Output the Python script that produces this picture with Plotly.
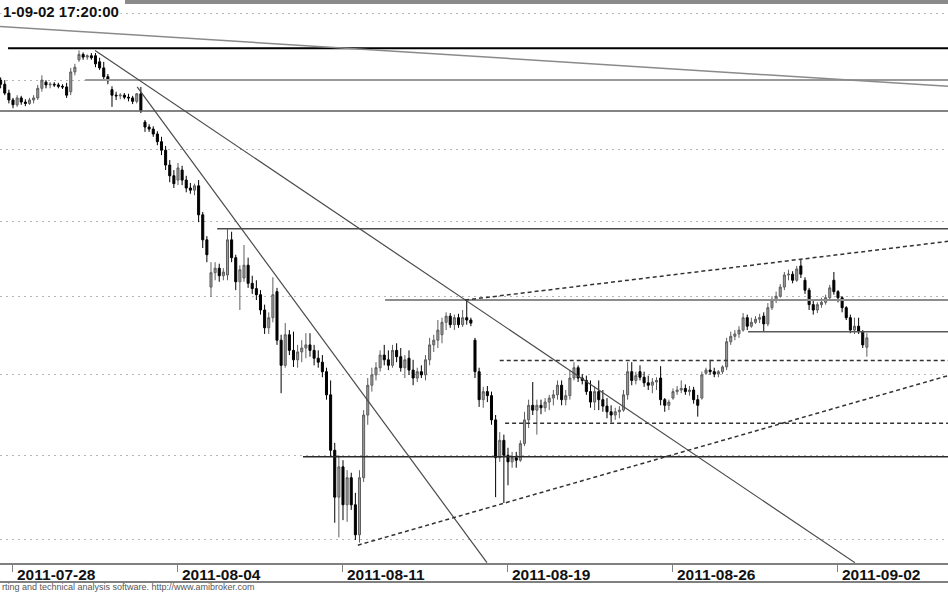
import math
import plotly.graph_objects as go

# ---------------- data (hourly bars, index 0 = first bar of 2011-07-28) ----------------
bar_index = list(range(-3, 208))

opens = [
    2800, 2794, 2781,
    2771, 2764, 2774, 2768, 2766, 2771, 2774, 2788,
    2797, 2793, 2794, 2793, 2791, 2790, 2783, 2812,
    2830, 2838, 2834, 2836, 2836, 2827, 2818, 2805,
    2786, 2778, 2777, 2778, 2775, 2774, 2769, 2780,
    2739, 2732, 2729, 2722, 2711, 2699, 2678, 2663,
    2657, 2671, 2657, 2646, 2643, 2649, 2609, 2575,
    2512, 2531, 2537, 2527, 2528, 2575, 2551, 2519,
    2524, 2541, 2517, 2510, 2502, 2482, 2459, 2472,
    2506, 2443, 2411, 2450, 2430, 2418, 2428, 2433,
    2437, 2430, 2420, 2415, 2403, 2374, 2306, 2250,
    2286, 2241, 2273, 2241, 2206, 2273, 2349, 2386,
    2399, 2408, 2424, 2418, 2411, 2430, 2422, 2408,
    2420, 2405, 2395, 2403, 2399, 2418, 2437, 2443,
    2450, 2466, 2474, 2463, 2472, 2463, 2472, 2469,
    2443, 2403, 2368, 2378, 2373, 2343, 2297, 2318,
    2300, 2292, 2297, 2294, 2314, 2343, 2361, 2355,
    2361, 2358, 2365, 2370, 2374, 2386, 2368, 2373,
    2395, 2408, 2395, 2392, 2378, 2365, 2378, 2368,
    2360, 2353, 2349, 2353, 2355, 2374, 2403, 2392,
    2403, 2396, 2389, 2386, 2390, 2395, 2368, 2361,
    2370, 2378, 2380, 2382, 2378, 2380, 2368, 2370,
    2401, 2405, 2403, 2400, 2403, 2409, 2441, 2448,
    2451, 2456, 2472, 2461, 2466, 2470, 2474, 2464,
    2485, 2495, 2500, 2512, 2528, 2529, 2521, 2540,
    2521, 2508, 2489, 2482, 2489, 2492, 2498, 2521,
    2506, 2498, 2485, 2472, 2456, 2461, 2454, 2434,
]
highs = [
    2804, 2800, 2786,
    2774, 2778, 2777, 2772, 2774, 2778, 2793, 2807,
    2800, 2797, 2797, 2796, 2794, 2796, 2818, 2824,
    2844, 2841, 2838, 2840, 2840, 2833, 2827, 2809,
    2791, 2783, 2781, 2781, 2780, 2777, 2781, 2790,
    2742, 2736, 2733, 2726, 2718, 2705, 2685, 2671,
    2681, 2677, 2663, 2653, 2652, 2657, 2613, 2580,
    2545, 2545, 2543, 2537, 2591, 2586, 2555, 2541,
    2568, 2551, 2527, 2521, 2508, 2489, 2479, 2525,
    2511, 2450, 2465, 2456, 2454, 2437, 2443, 2452,
    2452, 2437, 2430, 2424, 2408, 2392, 2315, 2300,
    2294, 2282, 2279, 2255, 2282, 2355, 2395, 2408,
    2415, 2430, 2437, 2430, 2437, 2439, 2433, 2424,
    2430, 2418, 2408, 2411, 2424, 2446, 2450, 2469,
    2472, 2479, 2478, 2476, 2477, 2482, 2496, 2472,
    2446, 2408, 2384, 2385, 2378, 2349, 2328, 2325,
    2309, 2304, 2304, 2318, 2353, 2368, 2390, 2368,
    2368, 2370, 2374, 2380, 2392, 2392, 2380, 2405,
    2415, 2411, 2400, 2398, 2392, 2385, 2392, 2380,
    2370, 2361, 2358, 2360, 2380, 2415, 2415, 2403,
    2411, 2403, 2398, 2395, 2396, 2410, 2370, 2368,
    2382, 2385, 2392, 2387, 2385, 2384, 2374, 2403,
    2408, 2418, 2408, 2405, 2411, 2446, 2454, 2456,
    2461, 2478, 2476, 2472, 2474, 2477, 2479, 2491,
    2500, 2506, 2516, 2532, 2535, 2533, 2540, 2548,
    2525, 2511, 2495, 2492, 2498, 2502, 2515, 2532,
    2508, 2500, 2487, 2476, 2472, 2472, 2456, 2452,
]
lows = [
    2788, 2778, 2766,
    2759, 2761, 2764, 2762, 2764, 2766, 2771, 2783,
    2788, 2788, 2790, 2788, 2787, 2774, 2778, 2807,
    2827, 2830, 2830, 2830, 2819, 2815, 2800, 2794,
    2761, 2771, 2772, 2772, 2769, 2765, 2766, 2752,
    2725, 2725, 2718, 2706, 2692, 2671, 2654, 2646,
    2650, 2650, 2640, 2638, 2636, 2599, 2564, 2545,
    2499, 2521, 2519, 2521, 2521, 2545, 2508, 2482,
    2519, 2511, 2503, 2495, 2476, 2451, 2451, 2466,
    2437, 2376, 2408, 2424, 2409, 2408, 2415, 2420,
    2422, 2411, 2408, 2396, 2368, 2298, 2220, 2203,
    2223, 2221, 2235, 2200, 2197, 2268, 2337, 2378,
    2392, 2403, 2411, 2405, 2408, 2415, 2403, 2395,
    2399, 2386, 2390, 2395, 2392, 2411, 2428, 2433,
    2439, 2456, 2459, 2456, 2459, 2460, 2463, 2461,
    2395, 2359, 2358, 2365, 2337, 2250, 2292, 2243,
    2264, 2285, 2285, 2292, 2311, 2333, 2349, 2325,
    2350, 2353, 2355, 2361, 2368, 2361, 2361, 2368,
    2392, 2390, 2387, 2374, 2358, 2355, 2355, 2353,
    2345, 2340, 2343, 2345, 2353, 2368, 2386, 2387,
    2392, 2384, 2380, 2376, 2380, 2361, 2353, 2355,
    2368, 2374, 2376, 2374, 2373, 2363, 2347, 2368,
    2399, 2399, 2396, 2396, 2400, 2405, 2437, 2443,
    2446, 2454, 2456, 2459, 2464, 2465, 2454, 2461,
    2482, 2491, 2498, 2508, 2521, 2517, 2519, 2524,
    2503, 2482, 2476, 2478, 2485, 2489, 2495, 2502,
    2492, 2479, 2469, 2452, 2451, 2451, 2433, 2422,
]
closes = [
    2794, 2781, 2771,
    2764, 2774, 2768, 2766, 2771, 2774, 2788, 2800,
    2793, 2794, 2793, 2791, 2790, 2778, 2812, 2819,
    2838, 2834, 2836, 2833, 2824, 2818, 2805, 2799,
    2778, 2777, 2778, 2775, 2774, 2769, 2780, 2756,
    2732, 2729, 2722, 2711, 2699, 2678, 2663, 2652,
    2674, 2657, 2646, 2643, 2649, 2609, 2575, 2555,
    2531, 2537, 2527, 2532, 2575, 2551, 2519, 2535,
    2541, 2517, 2510, 2502, 2482, 2459, 2472, 2502,
    2443, 2411, 2450, 2430, 2418, 2428, 2433, 2437,
    2430, 2420, 2415, 2403, 2374, 2306, 2250, 2286,
    2241, 2273, 2241, 2206, 2273, 2349, 2386, 2399,
    2408, 2424, 2418, 2411, 2430, 2422, 2408, 2418,
    2405, 2395, 2403, 2399, 2418, 2437, 2443, 2456,
    2466, 2474, 2463, 2472, 2463, 2472, 2469, 2465,
    2403, 2368, 2378, 2373, 2343, 2297, 2318, 2300,
    2292, 2297, 2294, 2314, 2343, 2361, 2355, 2361,
    2358, 2365, 2370, 2374, 2386, 2368, 2373, 2395,
    2408, 2395, 2392, 2378, 2365, 2378, 2368, 2360,
    2353, 2349, 2353, 2355, 2374, 2403, 2392, 2398,
    2396, 2389, 2386, 2390, 2392, 2368, 2361, 2365,
    2378, 2380, 2382, 2378, 2380, 2368, 2361, 2399,
    2405, 2403, 2400, 2403, 2409, 2441, 2448, 2451,
    2456, 2472, 2461, 2466, 2470, 2472, 2464, 2485,
    2495, 2500, 2512, 2528, 2529, 2521, 2536, 2529,
    2508, 2489, 2482, 2489, 2492, 2498, 2511, 2506,
    2498, 2485, 2472, 2456, 2461, 2454, 2437, 2446,
]

tick_bars = [0, 40, 80, 120, 160, 200]
tick_labels = ["2011-07-28", "2011-08-04", "2011-08-11", "2011-08-19", "2011-08-26", "2011-09-02"]
grid_levels = [2200, 2300, 2400, 2500, 2600, 2700, 2800, 2900]

# horizontal study lines: price level and first bar
solid_levels = [2847, 2800, 2755, 2590, 2495, 2454, 2298]
solid_level_start = [-1.2, 17.5, -3.2, 49.5, 90.2, 178.2, 70.3]
dashed_levels = [2417, 2339]
dashed_level_start = [118.0, 119.3]

# trend lines: (bar0, price0, bar1, price1)
solid_trends = [
    (-3.2, 2880, 226.7, 2791),
    (19.9, 2844, 204.1, 2174),
    (30.1, 2790, 114.9, 2174),
]
dashed_trends = [
    (109.6, 2495, 226.7, 2573),
    (83.6, 2194, 226.7, 2398),
]
title_text = "1-09-02 17:20:00"
footer_text = "rting and technical analysis software. http://www.amibroker.com"

# ---------------- geometry ----------------
W, H = 948, 593
TOP, BOTTOM = 5, 563           # plot area in pixels
X_END = 226.67
X_START = -3.15
Y_LOW, Y_HIGH = 2173.6, 2912.5


def ypaper(pix):
    return (BOTTOM - pix) / (BOTTOM - TOP)


fig = go.Figure()
fig.add_trace(go.Candlestick(
    x=bar_index, open=opens, high=highs, low=lows, close=closes,
    increasing=dict(line=dict(color="#5e5e5e", width=1), fillcolor="#9c9c9c"),
    decreasing=dict(line=dict(color="#000000", width=1), fillcolor="#000000"),
    whiskerwidth=0, hoverinfo="skip", showlegend=False,
))

solid_styles = [("#000000", 2), ("#9a9a9a", 2), ("#5a5a5a", 1.5), ("#4a4a4a", 1.5),
                ("#8c8c8c", 2), ("#5a5a5a", 1.5), ("#2a2a2a", 1.5)]
for lvl, start, (col, w) in zip(solid_levels, solid_level_start, solid_styles):
    fig.add_trace(go.Scatter(x=[start, X_END], y=[lvl, lvl], mode="lines",
                             line=dict(color=col, width=w), hoverinfo="skip", showlegend=False))
for lvl, start in zip(dashed_levels, dashed_level_start):
    fig.add_trace(go.Scatter(x=[start, X_END], y=[lvl, lvl], mode="lines",
                             line=dict(color="#333333", width=1.5, dash="4px,3px"),
                             hoverinfo="skip", showlegend=False))
trend_styles = [("#8a8a8a", 1.5), ("#4a4a4a", 1.2), ("#4a4a4a", 1.2)]
for (b0, p0, b1, p1), (col, w) in zip(solid_trends, trend_styles):
    fig.add_trace(go.Scatter(x=[b0, b1], y=[p0, p1], mode="lines",
                             line=dict(color=col, width=w), hoverinfo="skip", showlegend=False))
for b0, p0, b1, p1 in dashed_trends:
    fig.add_trace(go.Scatter(x=[b0, b1], y=[p0, p1], mode="lines",
                             line=dict(color="#333333", width=1.5, dash="4px,3px"),
                             hoverinfo="skip", showlegend=False))

annotations = []
for b, lab in zip(tick_bars, tick_labels):
    annotations.append(dict(x=b, xref="x", y=0, yref="paper", yanchor="top", xanchor="left",
                            xshift=2, yshift=-1, showarrow=False,
                            text="<b>%s</b>" % lab,
                            font=dict(family="Liberation Sans, Arial", size=15.5, color="#111111")))
annotations.append(dict(x=0, xref="paper", y=ypaper(12), yref="paper", xanchor="left",
                        yanchor="middle", xshift=1, showarrow=False, bgcolor="white",
                        text="<b>%s</b>" % title_text,
                        font=dict(family="Liberation Sans, Arial", size=15, color="#111111")))
annotations.append(dict(x=0, xref="paper", y=ypaper(587), yref="paper", xanchor="left",
                        yanchor="middle", showarrow=False, text=footer_text,
                        font=dict(family="Liberation Sans, Arial", size=9, color="#555555")))

shapes = [
    dict(type="line", xref="paper", yref="paper", x0=0, x1=1, y0=ypaper(582), y1=ypaper(582),
         line=dict(color="#808080", width=2)),
    dict(type="rect", xref="paper", yref="paper", x0=125 / W, x1=1, y0=ypaper(4), y1=ypaper(0),
         fillcolor="#8a8a8a", line=dict(width=0)),
]

fig.update_layout(
    width=W, height=H,
    margin=dict(l=0, r=0, t=TOP, b=H - BOTTOM, pad=0),
    paper_bgcolor="white", plot_bgcolor="white",
    showlegend=False,
    annotations=annotations, shapes=shapes,
    xaxis=dict(range=[X_START, X_END], showgrid=False, zeroline=False,
               showline=True, linecolor="#808080", linewidth=2,
               ticks="outside", ticklen=7, tickcolor="#808080", tickwidth=1,
               tickvals=tick_bars, showticklabels=False,
               rangeslider=dict(visible=False), fixedrange=True),
    yaxis=dict(type="log", range=[math.log10(Y_LOW), math.log10(Y_HIGH)],
               showgrid=True, gridcolor="#b5b5b5", gridwidth=1, griddash="2px,4px",
               tickvals=grid_levels, showticklabels=False, zeroline=False,
               showline=False, ticks="", fixedrange=True),
)

fig.write_html(
    "out.html",
    config={"displayModeBar": False},
    post_script="document.body.style.margin='0';document.body.style.overflow='hidden';",
)
